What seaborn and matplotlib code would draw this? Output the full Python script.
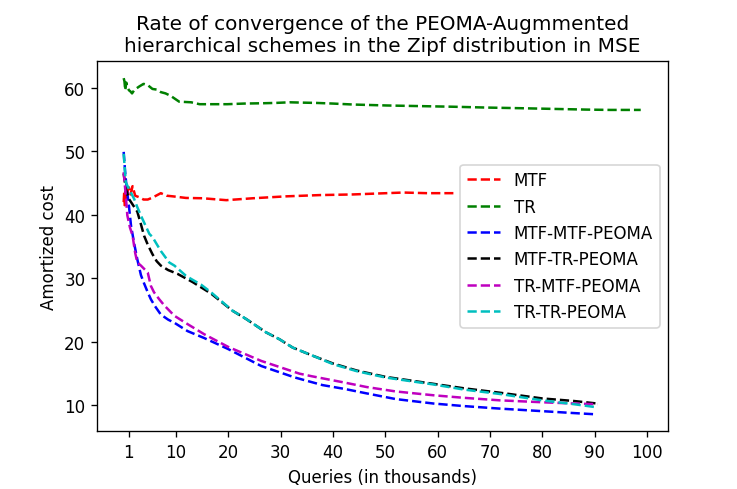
import matplotlib
matplotlib.use("Agg")
import matplotlib.pyplot as plt
import seaborn as sns
import pandas as pd

# ---- data (queries in thousands, amortized cost) ----
tr_x = [0, 0.15, 0.3, 0.5, 0.7, 1.0, 1.3, 1.6, 2.0, 2.3, 3.0, 3.8, 4.6, 5.5, 6.3, 7.1, 8.0, 9.0,
        10.6, 12.9, 14.5, 17, 19.8, 23, 26.6, 29, 31.7, 34, 36.8, 40, 43.8, 50.2, 56.6, 63, 69.4,
        75.8, 82.1, 88.5, 93, 98.8]
tr_y = [61.5, 61.0, 59.6, 60.8, 60.1, 59.6, 59.4, 59.1, 59.6, 59.8, 60.2, 60.6, 60.4, 59.8, 59.7,
        59.3, 59.1, 58.7, 57.8, 57.7, 57.4, 57.4, 57.4, 57.5, 57.55, 57.6, 57.7, 57.65, 57.6, 57.5,
        57.35, 57.2, 57.1, 57.0, 56.87, 56.77, 56.66, 56.55, 56.5, 56.5]

mtf_x = [0, 0.1, 0.2, 0.3, 0.5, 0.8, 1.0, 1.3, 1.7, 2.2, 3.0, 3.8, 4.6, 5.5, 7.1, 8.2, 9.4,
         11.9, 15.1, 19.6, 24.7, 31, 37.5, 43.8, 53.4, 58, 63]
mtf_y = [42.0, 43.5, 41.5, 44.0, 42.5, 43.8, 44.3, 43.2, 44.5, 43.0, 42.75, 42.4, 42.4, 42.7,
         43.4, 43.0, 42.9, 42.65, 42.6, 42.3, 42.6, 42.9, 43.1, 43.2, 43.5, 43.4, 43.4]

mm_x = [0, 0.3, 0.6, 1.0, 1.4, 2.0, 2.6, 3.3, 3.9, 4.6, 5.2, 6.0, 7.1, 8.5, 9.7, 12.2, 15.4,
        19.9, 26.3, 32.7, 38, 42.2, 46.4, 52, 59.2, 65, 71.9, 80, 86, 90.3]
mm_y = [49.9, 46.5, 44, 41.4, 38.3, 35.5, 33.0, 30.5, 29.2, 27.8, 26.7, 25.6, 24.3, 23.5, 23.0,
        21.7, 20.6, 18.9, 16.2, 14.4, 13.2, 12.6, 11.9, 11.0, 10.3, 9.9, 9.5, 9.1, 8.8, 8.6]

mt_x = [0, 0.4, 1.0, 1.8, 2.6, 3.3, 3.9, 4.6, 5.5, 6.3, 7.1, 8.5, 10.3, 13.2, 16.7, 20.8, 23.4,
        27.2, 29.8, 32.3, 36.2, 40, 44.5, 50, 55, 59.2, 65, 71.9, 80, 86, 90.5]
mt_y = [46.5, 44.1, 42.5, 41.5, 40.5, 38.5, 36.7, 35.3, 33.8, 32.7, 32.0, 31.3, 30.7, 29.4, 27.6,
        24.9, 23.6, 21.5, 20.4, 19.1, 17.8, 16.6, 15.5, 14.5, 13.9, 13.4, 12.7, 12.0, 11.1, 10.7, 10.3]

tm_x = [0, 0.3, 0.7, 1.2, 1.7, 2.2, 2.6, 3.3, 3.9, 4.6, 5.2, 5.8, 6.8, 7.8, 9.7, 12.2, 15.4, 20,
        26.3, 33.6, 35.9, 42.2, 46.4, 52, 59.2, 65, 71.9, 80, 86, 90.5]
tm_y = [46.7, 44, 39.9, 38, 36.7, 34, 32.5, 32.0, 31.5, 30.9, 28.8, 27.8, 26.7, 25.7, 24.1, 22.8,
        21.2, 19.2, 17.0, 15.0, 14.6, 13.6, 12.9, 12.2, 11.6, 11.2, 10.8, 10.5, 10.3, 10.2]

tt_x = [0, 0.4, 1.0, 2.0, 2.6, 3.5, 4.9, 5.5, 7.1, 8.7, 9.7, 11.9, 12.9, 14.8, 16.7, 20.8, 23.4,
        27.2, 29.8, 32.3, 36.2, 40, 44.5, 50, 55, 59.2, 65, 71.9, 80, 86, 90.5]
tt_y = [49.6, 45.1, 44.1, 42.5, 41.2, 39.5, 37.0, 36.5, 34.3, 32.5, 32.0, 30.4, 29.9, 29.0, 27.8,
        24.9, 23.6, 21.5, 20.4, 19.1, 17.8, 16.5, 15.4, 14.4, 13.8, 13.3, 12.5, 11.8, 10.8, 10.2, 9.7]

series = [
    ("MTF", mtf_x, mtf_y, "r"),
    ("TR", tr_x, tr_y, "g"),
    ("MTF-MTF-PEOMA", mm_x, mm_y, "b"),
    ("MTF-TR-PEOMA", mt_x, mt_y, "k"),
    ("TR-MTF-PEOMA", tm_x, tm_y, "m"),
    ("TR-TR-PEOMA", tt_x, tt_y, "c"),
]

x_ticks = [1, 10, 20, 30, 40, 50, 60, 70, 80, 90, 100]
y_ticks = [10, 20, 30, 40, 50, 60]

fig = plt.figure(figsize=(737 / 120, 490 / 120), dpi=120)
ax = fig.add_axes([0.1316, 0.118, 0.7747, 0.7555])

for name, xs, ys, col in series:
    df = pd.DataFrame({"x": xs, "y": ys})
    sns.lineplot(data=df, x="x", y="y", ax=ax, color=col, linestyle="--",
                 linewidth=1.5, label=name, sort=False, estimator=None)

ax.set_xlim(-5.1, 104.0)
ax.set_ylim(5.95, 64.2)
ax.set_xticks(x_ticks)
ax.set_yticks(y_ticks)
ax.set_xlabel("Queries (in thousands)")
ax.set_ylabel("Amortized cost")
ax.set_title("Rate of convergence of the PEOMA-Augmmented\n"
             "hierarchical schemes in the Zipf distribution in MSE", fontsize=12)
ax.legend(loc="center right")

fig.savefig("out.png", dpi=120)
